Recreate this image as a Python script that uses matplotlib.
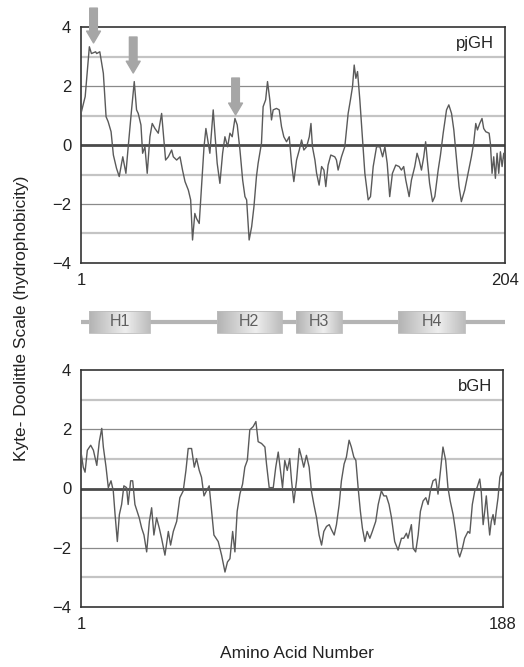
import numpy as np
import matplotlib; matplotlib.use("Agg")
import matplotlib.pyplot as plt

# ---- pjGH hydropathy profile (residue, Kyte-Doolittle value)
PJ_RES = [1, 3, 5, 6, 8, 8.5, 10, 11.7, 13, 14, 15.4, 16.5, 18, 19.3, 21, 22.5, 23.6, 25.2,
          26.5, 27.6, 28.4, 29.7, 30.5, 31.6, 32.7, 34, 35.1, 36.4, 38, 39.6, 40.4, 41.5,
          42.8, 44.4, 45.2, 46.8, 48.4, 49.6, 50.8, 52.4, 53.5, 54.4, 55.5, 56.3, 57.6,
          58.7, 59.9, 60.8, 61.9, 62.7, 64.3, 65.1, 66.2, 67.5, 68.8, 69.9, 71.2, 72.3,
          73.4, 74.7, 75.8, 77.1, 78.4, 79.5, 80.3, 81.5, 82.7, 83.8, 85, 85.8, 86.6,
          87.4, 88.2, 89.4, 90.3, 91.4, 92.2, 93, 94.6, 95.9, 97, 98.1, 99.4, 100.7,
          101.8, 102.9, 104.2, 105.5, 106.6, 107.7, 109, 110.3, 111.1, 111.8, 113,
          113.8, 115, 116.2, 117.3, 118.2, 119.3, 120.6, 122.5, 123.3, 124.1, 125.7,
          127.3, 128.9, 130, 131, 131.8, 132.6, 133.4, 134.5, 135.8, 136.9, 138.5,
          139.6, 140.9, 142.5, 144.1, 145.4, 146.5, 147.6, 148.8, 150.1, 151.7, 153.3,
          154.4, 155.5, 156.5, 158.1, 159.2, 160.8, 161.9, 162.9, 164, 165.1, 166,
          166.8, 167.9, 169.3, 170.4, 172, 173.1, 174.4, 176, 177.1, 178.4, 179.5,
          180.7, 182, 183.1, 184.7, 186.3, 187.9, 189, 190, 190.8, 191.9, 193, 193.8,
          194.8, 196.4, 197, 197.8, 198.6, 199.4, 200.2, 201, 201.8, 202.6, 203.4, 204]
PJ_VAL = [1.07, 1.64, 3.33, 3.1, 3.16, 3.1, 3.16, 2.43, 0.96, 0.79, 0.45, -0.34, -0.79,
          -1.07, -0.4, -0.96, -0.06, 1.19, 2.15, 1.19, 1.07, 0.68, -0.28, -0.06, -0.96,
          0.28, 0.73, 0.56, 0.4, 1.07, 0.4, -0.51, -0.4, -0.17, -0.4, -0.51, -0.4, -0.85,
          -1.24, -1.53, -1.86, -3.22, -2.32, -2.49, -2.66, -1.41, -0.06, 0.56, 0.06,
          -0.28, 1.19, 0.4, -0.62, -1.3, -0.28, 0.28, -0.06, 0.4, 0.28, 0.9, 0.68,
          -0.17, -1.19, -1.75, -1.86, -3.22, -2.77, -2.09, -1.07, -0.62, -0.28, 0.06,
          1.3, 1.53, 2.15, 1.53, 0.85, 1.19, 1.24, 1.19, 0.62, 0.28, 0.11, 0.28, -0.62,
          -1.24, -0.51, -0.17, 0.17, -0.17, -0.06, 0.28, 0.73, -0.06, -0.51, -0.96,
          -1.36, -0.73, -0.85, -1.41, -0.68, -0.34, -0.4, -0.51, -0.85, -0.4, -0.06,
          1.07, 1.53, 1.98, 2.71, 2.26, 2.49, 1.53, 0.17, -0.96, -1.86, -1.75, -0.73,
          -0.06, -0.06, -0.4, -0.06, -0.62, -1.75, -0.96, -0.68, -0.73, -0.85, -0.73,
          -1.19, -1.75, -1.19, -0.73, -0.28, -0.51, -0.85, -0.4, 0.11, -0.51, -1.3,
          -1.92, -1.75, -0.85, -0.34, 0.4, 1.19, 1.36, 1.07, 0.51, -0.4, -1.41, -1.92,
          -1.53, -0.96, -0.4, 0.06, 0.73, 0.51, 0.73, 0.9, 0.56, 0.45, 0.4, 0.06, -0.96,
          -0.4, -1.13, -0.28, -0.96, -0.23, -0.73, -0.28, -0.56]

# ---- bGH hydropathy profile
BG_RES = [1, 2, 2.8, 3.8, 5.3, 6.5, 8, 9.1, 10.2, 10.9, 12.1, 13.1, 14.3, 15.3, 16.1,
          17.1, 18, 19, 20, 21.2, 21.9, 23, 23.9, 24.9, 25.6, 26.8, 27.9, 28.9, 30.1,
          31.3, 32.3, 33.3, 34.5, 35.7, 36.7, 38.2, 39.7, 40.7, 41.9, 43.4, 44.8, 46.3,
          47.5, 48.5, 50, 51.2, 52.2, 53.4, 54.4, 55.5, 56.6, 57.8, 58.9, 59.9, 61.8,
          63.3, 64.8, 65.9, 67, 68.2, 69.2, 70.2, 71.4, 72.6, 73.6, 74.7, 75.8, 77.3,
          78.5, 79.5, 81, 82.5, 83.2, 84.4, 86.2, 87.3, 88.4, 89.4, 90.3, 91.3, 92.4,
          93.5, 94.3, 95.3, 96.5, 97.7, 98.7, 99.7, 100.9, 102.1, 103.1, 104.2, 105.4,
          106.5, 107.6, 108.6, 109.8, 111, 112, 113.2, 114.2, 115.4, 116.4, 117.6,
          118.6, 119.8, 120.8, 121.9, 122.8, 123.8, 124.8, 125.7, 126.8, 127.8, 129,
          130.1, 131.6, 132.7, 134.1, 135.2, 136.3, 137.5, 138.6, 140, 141.5, 143, 144,
          145.2, 145.9, 147.4, 148.2, 149.3, 150.4, 151.4, 152.6, 153.8, 154.8, 155.8,
          157, 158.2, 159.2, 160.3, 161.4, 162.6, 163.6, 164.6, 165.9, 167, 168.1,
          168.8, 170, 171, 172.5, 173.3, 174.4, 175.5, 176.5, 177.7, 178.4, 179.2,
          179.9, 180.6, 181.4, 182.1, 182.8, 183.6, 184.3, 185, 185.8, 186.6, 187.3, 188]
BG_VAL = [1.23, 0.72, 0.55, 1.29, 1.46, 1.29, 0.78, 1.58, 2.03, 1.4, 0.72, 0.03, 0.26,
          -0.08, -0.88, -1.79, -0.88, -0.54, 0.09, 0.03, -0.54, 0.26, 0.26, -0.54, -0.71,
          -0.99, -1.34, -1.57, -2.14, -1.11, -0.65, -1.57, -0.99, -1.34, -1.68, -2.25,
          -1.45, -1.91, -1.45, -1.11, -0.31, -0.08, 0.61, 1.35, 1.35, 0.72, 1.01, 0.61,
          0.38, -0.25, -0.08, 0.09, -0.77, -1.57, -1.79, -2.25, -2.82, -2.48, -2.37,
          -1.45, -2.14, -0.77, -0.19, 0.15, 0.72, 0.95, 1.98, 2.09, 2.26, 1.58, 1.52,
          1.4, 0.83, 0.03, 0.03, 0.72, 1.23, 0.61, 0.03, 0.95, 0.61, 1.01, 0.26, -0.48,
          0.26, 1.35, 1.06, 0.72, 1.12, 0.72, -0.08, -0.54, -0.99, -1.57, -1.91, -1.45,
          -1.28, -1.22, -1.39, -1.57, -1.22, -0.54, 0.26, 0.83, 1.06, 1.63, 1.4, 1.06,
          0.95, 0.03, -0.77, -1.34, -1.79, -1.45, -1.68, -1.45, -1.11, -0.54, -0.08,
          -0.25, -0.25, -0.54, -0.99, -1.79, -2.08, -1.68, -1.68, -1.51, -1.68, -1.22,
          -2.02, -2.14, -1.57, -0.77, -0.42, -0.31, -0.54, -0.08, 0.26, 0.32, -0.19,
          0.61, 1.4, 0.95, 0.03, -0.42, -0.88, -1.45, -2.14, -2.31, -2.02, -1.68, -1.45,
          -1.51, -0.54, -0.08, 0.03, 0.32, -0.14, -1.22, -0.77, -0.25, -0.99, -1.57,
          -1.11, -0.88, -1.22, -0.77, -0.31, 0.38, 0.55, 0.38]

# helices (pjGH numbering)
HELIX_NAMES = ["H1", "H2", "H3", "H4"]
HELIX_START = [5, 66, 104, 153]
HELIX_END = [34, 97, 126, 185]

# arrows on pjGH: residue, tail value, tip value
ARROW_RES = [7, 26, 75]
ARROW_TOP = [4.64, 3.66, 2.27]
ARROW_TIP = [3.46, 2.44, 1.02]

W, H = 524, 667
fig = plt.figure(figsize=(W / 100, H / 100), dpi=100)
plt.rcParams["font.family"] = ["Liberation Sans", "DejaVu Sans"]


def panel(rect, res, val, n, name):
    ax = fig.add_axes(rect)
    for g in [-3, -1, 1, 3]:
        ax.axhline(g, color="#c4c4c4", lw=1.6, zorder=1)
    for g in [-2, 2]:
        ax.axhline(g, color="#8a8a8a", lw=0.9, zorder=1)
    ax.axhline(0, color="#4a4a4a", lw=2.0, zorder=2)
    ax.plot(res, val, color="#5a5a5a", lw=1.0, zorder=3)
    ax.set_xlim(1, n)
    ax.set_ylim(-4, 4)
    ax.set_yticks([-4, -2, 0, 2, 4])
    ax.set_yticklabels(["\u22124", "\u22122", "0", "2", "4"])
    ax.set_xticks([1, n])
    ax.set_xticklabels(["1", str(n)])
    ax.tick_params(length=0, labelsize=12, colors="#222222")
    ax.tick_params(axis="y", pad=7)
    ax.tick_params(axis="x", pad=7)
    for s in ax.spines.values():
        s.set_color("#333333")
        s.set_linewidth(1.2)
    ax.text(0.975, 0.93, name, transform=ax.transAxes, ha="right", va="center",
            fontsize=12, color="#222222")
    return ax


ax1 = panel([81 / W, 1 - 263 / H, 424 / W, 236 / H], PJ_RES, PJ_VAL, 204, "pjGH")
ax2 = panel([81 / W, 1 - 607 / H, 422 / W, 237 / H], BG_RES, BG_VAL, 188, "bGH")

for r, y0, y1 in zip(ARROW_RES, ARROW_TOP, ARROW_TIP):
    ax1.annotate("", xy=(r, y1), xytext=(r, y0), annotation_clip=False,
                 arrowprops=dict(arrowstyle="simple,head_length=0.85,head_width=1.0,tail_width=0.55",
                                 color="#a6a6a6", shrinkA=0, shrinkB=0, mutation_scale=10),
                 zorder=5)

# helix diagram
axh = fig.add_axes([81 / W, 1 - 336 / H, 424 / W, 28 / H])
axh.set_xlim(1, 204)
axh.set_ylim(0, 1)
axh.axis("off")
axh.plot([1, 204], [0.5, 0.5], color="#b4b4b4", lw=3, solid_capstyle="butt", zorder=1)
grad = np.concatenate([np.linspace(0.70, 0.93, 60), np.linspace(0.93, 0.74, 40)])[None, :]
for nm, a, b in zip(HELIX_NAMES, HELIX_START, HELIX_END):
    axh.imshow(grad, cmap="gray", vmin=0, vmax=1, aspect="auto",
               extent=(a, b, 0.12, 0.88), zorder=2)
    axh.add_patch(plt.Rectangle((a, 0.12), b - a, 0.76, fill=False,
                                edgecolor="#bcbcbc", lw=0.6, zorder=3))
    axh.text((a + b) / 2, 0.5, nm, ha="center", va="center", fontsize=11.5,
             color="#5f5f5f", zorder=4)
axh.set_xlim(1, 204)
axh.set_ylim(0, 1)

fig.text(22 / W, 1 - 318 / H, "Kyte- Doolittle Scale (hydrophobicity)", rotation=90,
         ha="center", va="center", fontsize=12.5, color="#222222")
fig.text(297 / W, 1 - 653 / H, "Amino Acid Number", ha="center", va="center",
         fontsize=12.5, color="#222222")

fig.savefig("out.png", dpi=100)
